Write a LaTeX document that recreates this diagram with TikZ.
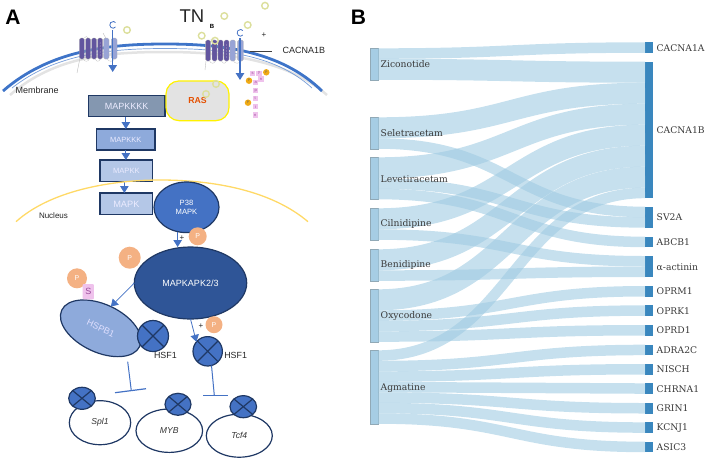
\documentclass[tikz,border=0pt]{standalone}
\usepackage{fontspec}
\setmainfont{Liberation Sans}
\newfontfamily\serifface{DejaVu Serif}
\usetikzlibrary{arrows.meta,calc,shapes.geometric}
\definecolor{navy}{HTML}{1F3864}
\definecolor{flowblue}{HTML}{4472C4}
\definecolor{kinaseA}{HTML}{8497B0}
\definecolor{kinaseB}{HTML}{8EAADB}
\definecolor{kinaseC}{HTML}{B4C7E7}
\definecolor{deepblue}{HTML}{2F5597}
\definecolor{peach}{HTML}{F4B183}
\definecolor{ringcol}{HTML}{DCDF9C}
\definecolor{chanA}{HTML}{62559F}
\definecolor{chanB}{HTML}{98A4D6}
\definecolor{membrane}{HTML}{3E74C8}
\definecolor{nucleuscol}{HTML}{FFD966}
\definecolor{beadcol}{HTML}{EFC2EC}
\definecolor{beadtext}{HTML}{9A4A9A}
\definecolor{orangebead}{HTML}{F0AA14}
\definecolor{bandcol}{HTML}{A0CBE2}
\definecolor{sourcecol}{HTML}{A6CDE4}
\definecolor{targetcol}{HTML}{3A87BE}
\definecolor{sankeytext}{HTML}{3A3A3A}
\tikzset{
  x=1pt,y=-1pt,
  every node/.style={inner sep=0pt,outer sep=0pt},
  txt/.style={font=\fontsize{#1}{#1}\selectfont,text=black!85},
  kinase/.style={rectangle,draw=navy,line width=1.1pt,text=white!92!blue,font=\fontsize{#1}{#1}\selectfont},
  blob/.style={ellipse,draw=navy,line width=1.2pt},
  pcircle/.style={circle,fill=peach,text=white,minimum size=#1,font=\fontsize{7}{7}\selectfont},
  ring/.style={draw=ringcol,line width=1.4pt},
  xcircle/.style={ellipse,draw=navy,line width=1.2pt,fill=flowblue,minimum width=#1,
    path picture={\draw[navy,line width=1.2pt]
      (path picture bounding box.north west)--(path picture bounding box.south east)
      (path picture bounding box.north east)--(path picture bounding box.south west);}},
  genecell/.style={ellipse,draw=navy,line width=1.2pt,fill=white,font=\fontsize{8.6}{8.6}\selectfont\itshape,text=black!80},
  patharrow/.style={flowblue,line width=1pt,-{Triangle[width=8.5pt,length=7pt]}},
  inhibit/.style={flowblue,line width=1pt},
  chan/.style={rounded corners=1.5pt,line width=.3pt,draw=gray!60},
  bead/.style={fill=beadcol,minimum size=5.5pt,text=beadtext,font=\fontsize{4}{4}\selectfont},
  obead/.style={circle,fill=orangebead,minimum size=6.5pt,text=black!60,font=\fontsize{3.5}{3.5}\selectfont},
  bandline/.style={draw=bandcol,draw opacity=.6,line cap=butt},
  source/.style={rectangle,anchor=north west,fill=sourcecol,draw=gray!45!bandcol,line width=.5pt,minimum width=8pt},
  target/.style={rectangle,anchor=north west,fill=targetcol,minimum width=8pt},
  sklabel/.style={anchor=west,text=sankeytext,font=\serifface\fontsize{9.2}{9.2}\selectfont},
}
% One ribbon of the flow chart, a stroked curve of constant width:
% source node, offset, target node, offset, thickness
\newcommand{\ribbon}[5]{%
  \draw[bandline,line width=#5pt]
    ($(#1.north east)+(0,#2+#5/2)$)
    .. controls ($(#1.north east)+(133.5,#2+#5/2)$) and ($(#3.north west)+(-133.5,#4+#5/2)$)
    .. ($(#3.north west)+(0,#4+#5/2)$);}
% One calcium channel: four dark and two pale subunits
\newcommand{\channel}[3]{%
  \begin{scope}[shift={(#1,#2)}]
    \foreach \xx in {0,6.4,12.4,18.4}
      \filldraw[chan,fill=chanA] (\xx,0) rectangle ++(5,#3);
    \foreach \yy in {5,8,11,14,17}
      \fill[white!80!chanA] (20.9,\yy) circle (.45);
    \filldraw[chan,fill=chanB] (24.4,0) rectangle ++(5.3,#3);
    \filldraw[chan,fill=chanB] (32,0) rectangle ++(5.7,#3);
    \draw[gray!50,line width=.3pt] (4,#3) .. controls (5,#3+3) and (9,#3+3) .. (10,#3)
      (16,#3) .. controls (17,#3+3) and (20,#3+3) .. (21,#3)
      (5,0) .. controls (6,-2) and (8,-2) .. (9,0)
      (28,#3) .. controls (29,#3+3) and (34,#3+3) .. (35,#3);
  \end{scope}}
\begin{document}
\begin{tikzpicture}
\useasboundingbox (0,0) rectangle (706,461);

% ---- panel letters
\node[anchor=center,font=\fontsize{21}{21}\selectfont\bfseries] (letterA) at (13,17.5) {A};
\node[anchor=center,font=\fontsize{21}{21}\selectfont\bfseries] (letterB) at (358.5,17.5) {B};

% ---- cell membrane
\draw[gray!22,line width=2.5pt] (10,95) .. controls (55,56) and (110,52) .. (165,52) .. controls (220,52) and (285,58) .. (327,95);
\draw[membrane!70,line width=.7pt] (12,88) .. controls (55,54) and (110,48.5) .. (165,48.5) .. controls (220,48.5) and (275,54) .. (312,88);
\draw[membrane,line width=2.8pt] (3,91) .. controls (50,50) and (110,44) .. (165,44) .. controls (220,44) and (280,50) .. (322,91);

\draw[gray!50,line width=.4pt] (80,58) -- (77,73) (103,33) -- (108,42) (206,61) -- (205,70);
\channel{79.3}{38}{21}
\channel{205.6}{40}{21}

% channel pores with the calcium current running through them
\draw[patharrow,line width=1.2pt] (112.7,30) -- (112.7,72);
\draw[patharrow,line width=1.2pt] (240,38) -- (240,80);
\draw[flowblue,line width=.8pt] (115.5,27) arc (40:320:3.2 and 3.4);
\draw[flowblue,line width=.8pt] (242.8,35) arc (40:320:3.2 and 3.4);

\node[txt=18.5] (tn) at (192,16) {TN};
\node[font=\fontsize{6}{6}\selectfont\bfseries] (tnb) at (212,26.7) {B};
\node[txt=8] (plus0) at (264,35) {+};
\node[txt=9,anchor=west] (cacna) at (282.7,50.7) {CACNA1B};
\coordinate (cacnatick) at (250,51.7);
\draw[black!75,line width=.5pt] (cacnatick) -- (272,51.7);
\node[txt=9,anchor=west] (membranelabel) at (15.7,90) {Membrane};

% ---- ziconotide rings
\foreach \px/\py in {127/30,201.7/35.7,215/40.7,224.3/16,247.7/25,265/5.7}
  \draw[ring] (\px,\py) circle (3.3);

% ---- kinase cascade
\node[kinase=9,fill=kinaseA,minimum width=76.7pt,minimum height=21.4pt] (m4) at (126.65,106) {MAPKKKK};
\node[kinase=7.5,fill=kinaseB,minimum width=58.3pt,minimum height=21pt] (m3) at (125.85,139.5) {MAPKKK};
\node[kinase=7.6,fill=kinaseC,minimum width=52.7pt,minimum height=21.7pt] (m2) at (126.35,170.85) {MAPKK};
\node[kinase=9.2,fill=kinaseC,minimum width=52.7pt,minimum height=21.7pt] (m1) at (126.35,203.85) {MAPK};
\draw[patharrow] (m4.south -| m3.north) -- (m3.north);
\draw[patharrow] (m3.south) -- (m3.south |- m2.north);
\draw[patharrow] ([xshift=-2pt]m2.south) -- ([xshift=-2pt]m1.north);

% ---- RAS and the rings sitting on it
\node[rectangle,rounded corners=13pt,draw=yellow,line width=1.2pt,fill=black!11,minimum width=63pt,minimum height=39.7pt,
  text=orange!70!red!90!black,font=\fontsize{8.7}{8.7}\selectfont\bfseries] (ras) at (197.5,100.8) {RAS};
\foreach \px/\py in {216/84,206/94}
  \draw[ring] (\px,\py) circle (3.3);

% ---- beaded peptide chain by the channel
\node[bead] (b1) at (252.7,73.3) {s};
\node[bead] (b2) at (259,73.3) {y};
\node[bead] (b3) at (261,79) {n};
\node[bead] (b4) at (255.7,82.3) {a};
\node[bead] (b5) at (255.7,90.7) {p};
\node[bead] (b6) at (255.3,98.3) {t};
\node[bead] (b7) at (255.3,106.7) {i};
\node[bead] (b8) at (255.3,115) {n};
\node[obead] (o1) at (266.3,72.3) {P};
\node[obead] (o2) at (249,80.7) {P};
\node[obead] (o3) at (248,102.7) {P};

% ---- nuclear envelope
\draw[nucleuscol,line width=1.3pt] (16,221.7) .. controls (50,191) and (110,180) .. (160,180) .. controls (215,180) and (272,191) .. (308,221.7);
\node[txt=8,anchor=west] (nucleus) at (39,215.7) {Nucleus};

% ---- p38 and its substrate
\node[blob,fill=flowblue,minimum width=65pt,minimum height=50.6pt,text=white,align=center,
  font=\fontsize{7.6}{9.4}\selectfont] (p38) at (186.5,207.3) {P38\\MAPK};
\node[blob,fill=deepblue,minimum width=112.4pt,minimum height=72pt,text=white,
  font=\fontsize{9}{9}\selectfont] (mk) at (190.5,283) {MAPKAPK2/3};
\draw[patharrow] (p38.250) -- (p38.250 |- mk.north);
\node[txt=8] (plus1) at (182,238.3) {+};
\node[pcircle=18pt] (p1) at (197.7,236.3) {P};
\node[pcircle=22pt] (p2) at (129.7,257.7) {P};
\node[pcircle=20pt] (p3) at (77,278.3) {P};

% ---- HSPB1 with bound HSF1
\node[blob,fill=kinaseB,minimum width=86pt,minimum height=48pt,rotate=-25,text=white!88!blue,
  font=\fontsize{9}{9}\selectfont] (hspb) at (100.7,328.3) {HSPB1};
\node[rectangle,rounded corners=1pt,fill=beadcol,minimum width=11.3pt,minimum height=15.3pt,text=beadtext,
  font=\fontsize{9}{9}\selectfont] (serine) at (88.3,291.7) {S};
\draw[patharrow,line width=.8pt] (mk.west) -- (hspb.north);
\node[xcircle=31pt,minimum height=31pt] (hsfa) at (153,336) {};
\node[txt=8.9,anchor=west] (hsfalabel) at (154,355.7) {HSF1};

% ---- free HSF1
\node[xcircle=29.4pt,minimum height=29.4pt] (hsfb) at (207.7,351.3) {};
\node[txt=8.9,anchor=west] (hsfblabel) at (224.3,355.3) {HSF1};
\draw[patharrow,line width=.8pt] (mk.south) -- (hsfb.140);
\node[txt=8] (plus2) at (201,325.7) {+};
\node[pcircle=17pt] (p4) at (214,324.7) {P};

% ---- inhibition bars
\coordinate (tailA) at (127.7,361.7);
\coordinate (teeA) at (131.3,390.7);
\coordinate (barAl) at (115,392.7);
\coordinate (barAr) at (146,388.7);
\draw[inhibit] (tailA) -- (teeA);
\draw[inhibit,line width=1.2pt] (barAl) -- (barAr);
\coordinate (teeB) at (214.3,395.3);
\coordinate (barBl) at (203.3,395.3);
\coordinate (barBr) at (228.3,395.3);
\draw[inhibit] (hsfb.285) -- (teeB);
\draw[inhibit,line width=1.2pt] (barBl) -- (barBr);

% ---- target genes
\node[genecell,minimum width=61.4pt,minimum height=44pt] (spl) at (100,422.7) {Spl1};
\node[genecell,minimum width=66.6pt,minimum height=43.4pt] (myb) at (169.3,430.7) {MYB};
\node[genecell,minimum width=66pt,minimum height=43pt] (tcf) at (239.3,435.7) {Tcf4};
\node[xcircle=26.6pt,minimum height=22pt] (xs) at (82,398.3) {};
\node[xcircle=26pt,minimum height=22pt] (xm) at (178,404.3) {};
\node[xcircle=26.6pt,minimum height=22pt] (xt) at (243.3,406.7) {};

% ---- flow chart: targets
\foreach \nm/\yy/\hh in {t1a/42.3/10.5,t1b/61.7/136.5,tsv/206.7/21,tab/236.7/10.5,tac/256/21,
    tm/286/10.5,tk/305.3/10.5,td/325/10.5,tad/344.7/10.5,tni/364/10.5,tch/383.3/10.5,
    tgr/403/10.5,tkc/422.3/10.5,tas/441.7/10.5}
  \node[target,minimum height=\hh pt] (\nm) at (645,\yy) {};

% ---- flow chart: sources
\foreach \nm/\yy/\hh in {zic/48.3/31.5,sel/117.3/31.5,lev/157.3/42,cil/208.3/31.5,
    ben/249.3/31.5,oxy/289.3/52.5,agm/350.3/73.5}
  \node[source,minimum height=\hh pt] (\nm) at (370,\yy) {};

% ---- flow chart: ribbons
\ribbon{zic}{0}{t1a}{0}{10.5}
\ribbon{zic}{10.5}{t1b}{0}{21}
\ribbon{sel}{0}{t1b}{21}{21}
\ribbon{sel}{21}{tsv}{0}{10.5}
\ribbon{lev}{0}{t1b}{42}{21}
\ribbon{lev}{21}{tsv}{10.5}{10.5}
\ribbon{lev}{31.5}{tab}{0}{10.5}
\ribbon{cil}{0}{t1b}{63}{21}
\ribbon{cil}{21}{tac}{0}{10.5}
\ribbon{ben}{0}{t1b}{84}{21}
\ribbon{ben}{21}{tac}{10.5}{10.5}
\ribbon{oxy}{0}{t1b}{105}{21}
\ribbon{oxy}{21}{tm}{0}{10.5}
\ribbon{oxy}{31.5}{tk}{0}{10.5}
\ribbon{oxy}{42}{td}{0}{10.5}
\ribbon{agm}{0}{t1b}{126}{10.5}
\ribbon{agm}{10.5}{tad}{0}{10.5}
\ribbon{agm}{21}{tni}{0}{10.5}
\ribbon{agm}{31.5}{tch}{0}{10.5}
\ribbon{agm}{42}{tgr}{0}{10.5}
\ribbon{agm}{52.5}{tkc}{0}{10.5}
\ribbon{agm}{63}{tas}{0}{10.5}

% ---- flow chart: labels
\foreach \nm/\yy/\tx in {lzic/64.3/Ziconotide,lsel/133/Seletracetam,llev/178.7/Levetiracetam,
    lcil/224.3/Cilnidipine,lben/264.7/Benidipine,loxy/315.7/Oxycodone,lagm/387.7/Agmatine}
  \node[sklabel] (\nm) at (380.7,\yy) {\tx};
\foreach \nm/\yy/\tx in {ra/48/CACNA1A,rb/130/CACNA1B,rc/217.5/SV2A,rd/242.3/ABCB1,re/267/α-actinin,
    rf/291.5/OPRM1,rg/310.7/OPRK1,rh/330.5/OPRD1,ri/350/ADRA2C,rj/369.3/NISCH,rk/389/CHRNA1,
    rl/408.3/GRIN1,rm/427.7/KCNJ1,rn/447/ASIC3}
  \node[sklabel] (\nm) at (656.7,\yy) {\tx};
\end{tikzpicture}
\end{document}
